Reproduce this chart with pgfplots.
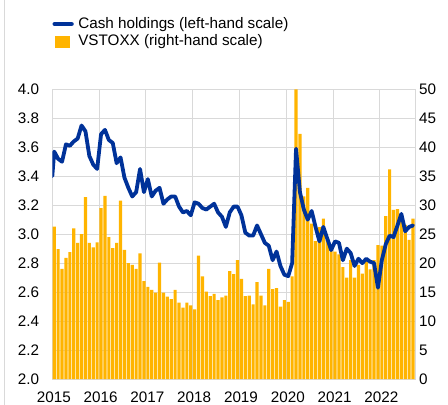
\documentclass[border=0pt]{standalone}
\usepackage{pgfplots}
\pgfplotsset{compat=1.18}
\usepackage{pgfplotstable}
\usepackage{fontspec}
\setmainfont{Liberation Sans}
\definecolor{ecbblue}{HTML}{003299}
\definecolor{ecbyellow}{HTML}{FFB400}
\definecolor{gridgray}{HTML}{D9D9D9}

\pgfplotstableread{
x v
0.5 26.3
1.5 22.4
2.5 19.0
3.5 20.9
4.5 21.9
5.5 26.0
6.5 23.5
7.5 25.0
8.5 31.4
9.5 23.5
10.5 22.7
11.5 23.6
12.5 29.5
13.5 31.6
14.5 24.5
15.5 22.6
16.5 23.5
17.5 30.8
18.5 22.3
19.5 20.0
20.5 19.7
21.5 19.0
22.5 21.7
23.5 16.9
24.5 15.9
25.5 15.4
26.5 14.9
27.5 20.1
28.5 14.9
29.5 14.2
30.5 13.8
31.5 15.4
32.5 13.2
33.5 12.3
34.5 13.2
35.5 12.7
36.5 12.0
37.5 21.3
38.5 17.7
39.5 15.1
40.5 14.3
41.5 14.7
42.5 13.6
43.5 14.1
44.5 14.4
45.5 18.6
46.5 18.1
47.5 20.5
48.5 17.3
49.5 14.3
50.5 14.4
51.5 12.9
52.5 16.7
53.5 14.4
54.5 12.7
55.5 19.0
56.5 15.5
57.5 15.7
58.5 12.5
59.5 13.6
60.5 13.3
61.5 17.7
62.5 50.0
63.5 42.3
64.5 31.5
65.5 33.0
66.5 26.8
67.5 23.8
68.5 26.2
69.5 27.7
70.5 24.0
71.5 22.5
72.5 22.0
73.5 21.5
74.5 19.3
75.5 17.5
76.5 20.5
77.5 17.5
78.5 19.7
79.5 18.2
80.5 20.5
81.5 18.9
82.5 20.5
83.5 23.1
84.5 23.0
85.5 28.1
86.5 36.2
87.5 29.2
88.5 29.3
89.5 28.3
90.5 26.6
91.5 24.0
92.5 27.7
}\vstoxx

\pgfplotstableread{
x c
0 3.40
0.5 3.57
1.5 3.52
2.5 3.50
3.5 3.62
4.5 3.61
5.5 3.64
6.5 3.66
7.5 3.75
8.5 3.71
9.5 3.54
10.5 3.48
11.5 3.45
12.5 3.69
13.5 3.72
14.5 3.65
15.5 3.63
16.5 3.49
17.5 3.53
18.5 3.39
19.5 3.32
20.5 3.26
21.5 3.29
22.5 3.45
23.5 3.29
24.5 3.38
25.5 3.26
26.5 3.30
27.5 3.32
28.5 3.21
29.5 3.24
30.5 3.26
31.5 3.26
32.5 3.19
33.5 3.15
34.5 3.16
35.5 3.13
36.5 3.22
37.5 3.21
38.5 3.18
39.5 3.17
40.5 3.19
41.5 3.21
42.5 3.15
43.5 3.12
44.5 3.05
45.5 3.15
46.5 3.19
47.5 3.19
48.5 3.13
49.5 3.01
50.5 2.99
51.5 2.99
52.5 3.06
53.5 3.00
54.5 2.94
55.5 2.92
56.5 2.82
57.5 2.88
58.5 2.78
59.5 2.72
60.5 2.71
61.5 2.80
62.5 3.59
63.5 3.29
64.5 3.17
65.5 3.10
66.5 3.16
67.5 3.05
68.5 2.95
69.5 3.05
70.5 2.97
71.5 2.89
72.5 2.95
73.5 2.94
74.5 2.82
75.5 2.90
76.5 2.87
77.5 2.78
78.5 2.83
79.5 2.80
80.5 2.83
81.5 2.81
82.5 2.80
83.5 2.63
84.5 2.82
85.5 2.93
86.5 2.99
87.5 2.98
88.5 3.06
89.5 3.14
90.5 3.02
91.5 3.05
92.5 3.06
}\cash

\begin{document}
\fontsize{15.3}{18}\selectfont
\begin{tikzpicture}
\useasboundingbox (-52.3bp,-26bp) rectangle (395.7bp,379bp);
\draw[gridgray, line width=0.8bp] (-48.3bp,-26bp) -- (-48.3bp,379bp);
\pgfplotsset{
  base/.style={
    width=362.7bp, height=289.7bp, scale only axis,
    xmin=0, xmax=93,
    at={(0,0)}, anchor=south west,
    /pgf/number format/assume math mode=true,
    tick label style={font=\fontsize{15.3}{18}\selectfont, text=black},
    major tick length=0pt,
  },
}
% grid, left scale and years
\begin{axis}[base,
  ymin=2, ymax=4,
  ytick={2,2.2,2.4,2.6,2.8,3,3.2,3.4,3.6,3.8,4},
  yticklabel style={/pgf/number format/fixed, /pgf/number format/fixed zerofill, /pgf/number format/precision=1, xshift=-7.9bp},
  xtick={0,12,24,36,48,60,72,84},
  xticklabels={2015,2016,2017,2018,2019,2020,2021,2022},
  xticklabel style={yshift=-7.6bp, xshift=1.5bp},
  grid=major,
  grid style={gridgray, line width=0.8bp},
  axis line style={gridgray, line width=0.8bp},
]
\end{axis}
% bars, right scale
\begin{axis}[base,
  ymin=0, ymax=50,
  ytick={0,5,10,15,20,25,30,35,40,45,50},
  axis y line*=right,
  axis x line=none,
  y axis line style={draw=none},
  yticklabel style={anchor=west, xshift=-1.1bp},
]
\addplot[ybar, bar width=0.8, fill=ecbyellow, draw=none] table[x=x, y=v] {\vstoxx};
\end{axis}
% line, left scale, legend
\begin{axis}[base,
  ymin=2, ymax=4,
  hide axis,
  legend style={at={(0,1.256)}, anchor=north west, draw=none, fill=none,
    font=\fontsize{15.3}{18}\selectfont, inner sep=0pt, row sep=0bp,
    /tikz/every even column/.append style={column sep=0bp}},
  legend cell align=left,
]
\addplot[ecbblue, line width=3.8bp, line join=round, line cap=round,
  legend image code/.code={\draw[ecbblue, line width=4.8bp] (0bp,0bp) -- (16.5bp,0bp);}]
  table[x=x, y=c] {\cash};
\addlegendentry{\hspace{2.5bp}Cash holdings (left-hand scale)}
\addlegendimage{legend image code/.code={\fill[ecbyellow] (0bp,-5.5bp) rectangle (14bp,5.5bp);}}
\addlegendentry{\hspace{2.5bp}VSTOXX (right-hand scale)}
\end{axis}
\end{tikzpicture}
\end{document}
